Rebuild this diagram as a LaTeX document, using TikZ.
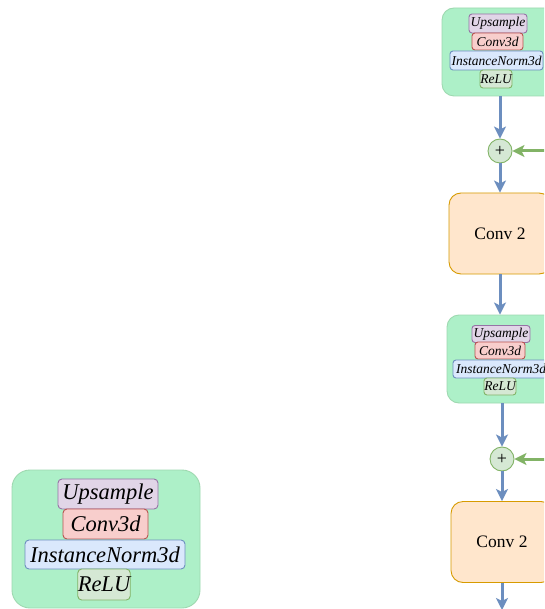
\documentclass[tikz,border=0pt]{standalone}
\usepackage{fontspec}
\setmainfont{Liberation Serif}
\usetikzlibrary{arrows.meta}
\definecolor{outerfill}{HTML}{ADF0C8}
\definecolor{outerdraw}{HTML}{9ED9B0}
\definecolor{upfill}{HTML}{E1D5E7}
\definecolor{updraw}{HTML}{9673A6}
\definecolor{convfill}{HTML}{F8CECC}
\definecolor{convdraw}{HTML}{B85450}
\definecolor{normfill}{HTML}{DAE8FC}
\definecolor{normdraw}{HTML}{6C8EBF}
\definecolor{relufill}{HTML}{D5E8D4}
\definecolor{reludraw}{HTML}{82B366}
\definecolor{orfill}{HTML}{FFE6CC}
\definecolor{ordraw}{HTML}{D79B00}
\definecolor{bluearrow}{HTML}{6C8EBF}
\definecolor{greenarrow}{HTML}{82B366}
\tikzset{
  outerbox/.style={draw=outerdraw, fill=outerfill, line width=0.9pt, rounded corners=12pt, inner sep=0pt},
  layer/.style={rounded corners=3pt, inner sep=0pt, line width=0.9pt, font=\fontsize{13.5}{13.5}\selectfont\itshape},
  biglayer/.style={rounded corners=4pt, inner sep=0pt, line width=0.9pt, font=\fontsize{22.5}{22.5}\selectfont\itshape},
  uplayer/.style={draw=updraw, fill=upfill},
  convlayer/.style={draw=convdraw, fill=convfill},
  normlayer/.style={draw=normdraw, fill=normfill},
  relulayer/.style={draw=reludraw, fill=relufill},
  convtwo/.style={draw=ordraw, fill=orfill, line width=0.9pt, rounded corners=12pt, minimum width=102pt, minimum height=81pt, font=\fontsize{17.5}{17.5}\selectfont},
  addnode/.style={circle, draw=reludraw, fill=relufill, line width=0.9pt, minimum size=24pt, inner sep=0pt, font=\fontsize{18}{18}\selectfont},
  barrow/.style={draw=bluearrow, line width=3pt, -{Stealth[length=12pt,width=12pt,inset=3pt]}},
  garrow/.style={draw=greenarrow, line width=3pt, -{Stealth[length=12pt,width=12pt,inset=3pt]}},
}
\begin{document}
\begin{tikzpicture}[x=1pt,y=-1pt]
\clip (0,0) rectangle (544,609);
\fill[white] (0,0) rectangle (544,609);

% top block
\node[outerbox, minimum width=116pt, minimum height=88pt] (b1) at (500,52) {};
\node[layer, uplayer, minimum width=58pt, minimum height=19pt] (b1u) at (498,23.5) {Upsample};
\node[layer, convlayer, minimum width=51pt, minimum height=17pt] (b1c) at (497.5,41.5) {Conv3d};
\node[layer, normlayer, minimum width=93pt, minimum height=19pt] (b1n) at (496.5,60.5) {InstanceNorm3d};
\node[layer, relulayer, minimum width=32pt, minimum height=18pt] (b1r) at (496,79) {ReLU};

\node[addnode] (p1) at (500,151) {+};
\coordinate (g1) at (560,151);
\node[convtwo] (c1) at (500,233.5) {Conv 2};

% second block
\node[outerbox, minimum width=110pt, minimum height=88pt] (b2) at (502,359) {};
\node[layer, uplayer, minimum width=58pt, minimum height=17pt] (b2u) at (501,334) {Upsample};
\node[layer, convlayer, minimum width=50pt, minimum height=17pt] (b2c) at (500,350.5) {Conv3d};
\node[layer, normlayer, minimum width=96pt, minimum height=18pt] (b2n) at (501,369) {InstanceNorm3d};
\node[layer, relulayer, minimum width=32pt, minimum height=17pt] (b2r) at (500,386.5) {ReLU};

\node[addnode] (p2) at (502,459) {+};
\coordinate (g2) at (560,459);
\node[convtwo] (c2) at (502,542) {Conv 2};
\coordinate (end) at (502,610);

% legend block
\node[outerbox, rounded corners=18pt, minimum width=188pt, minimum height=138pt] (lg) at (106,539) {};
\node[biglayer, uplayer, minimum width=100pt, minimum height=30pt] (lgu) at (108,494) {Upsample};
\node[biglayer, convlayer, minimum width=85pt, minimum height=30pt] (lgc) at (105.5,524) {Conv3d};
\node[biglayer, normlayer, minimum width=160pt, minimum height=29pt] (lgn) at (105,554.5) {InstanceNorm3d};
\node[biglayer, relulayer, minimum width=52pt, minimum height=31pt] (lgr) at (104,584.5) {ReLU};

% connectors
\draw[barrow] (b1) -- (p1);
\draw[garrow] (g1) -- (p1);
\draw[barrow] (p1) -- (c1);
\draw[barrow] (c1) -- (b2.north -| c1.south);
\draw[barrow] (b2.south -| p2.north) -- (p2);
\draw[garrow] (g2) -- (p2);
\draw[barrow] (p2) -- (c2);
\draw[barrow] (c2) -- (end);
\end{tikzpicture}
\end{document}
